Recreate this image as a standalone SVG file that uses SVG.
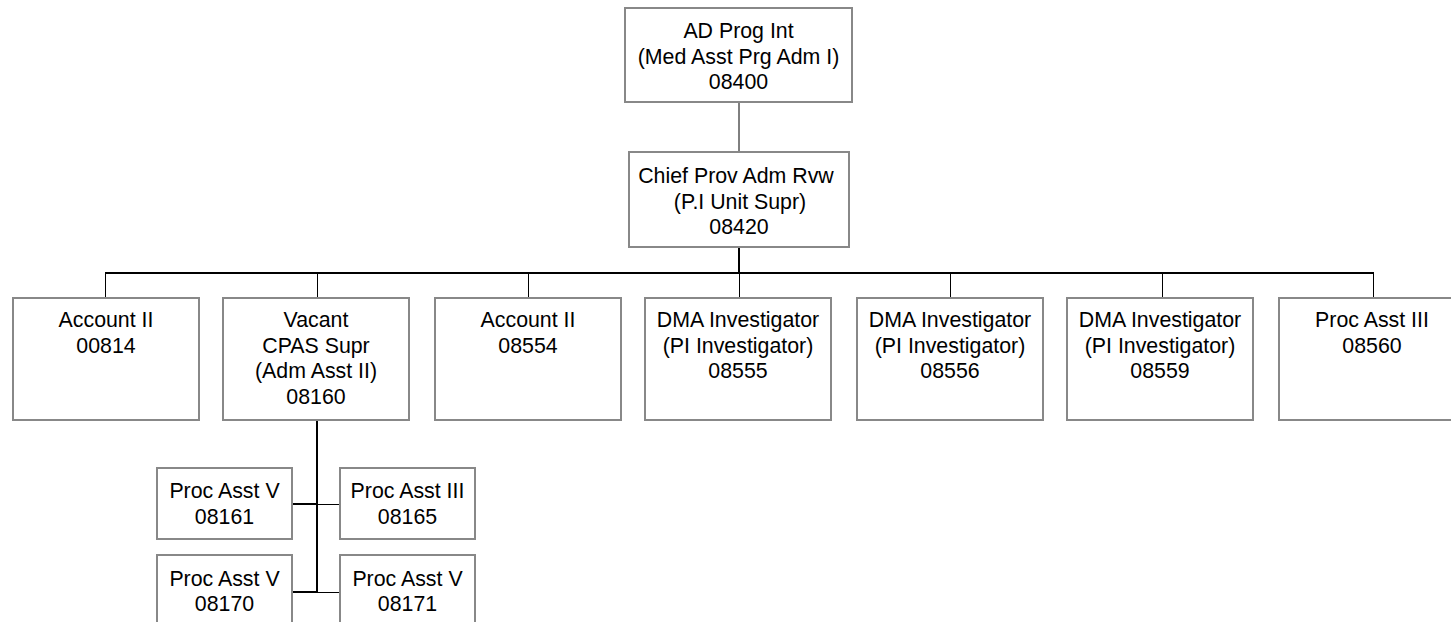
<svg xmlns="http://www.w3.org/2000/svg" width="1451" height="622" viewBox="0 0 1451 622">
<style>
.box{fill:#fff;stroke:#888;stroke-width:2}
.t{font-family:"Liberation Sans",Arial,sans-serif;font-size:21.33px;fill:#000;text-anchor:middle}
.thick{stroke:#000;stroke-width:2;fill:none}
.thin{stroke:#000;stroke-width:1;fill:none}
</style>
<rect width="1451" height="622" fill="#fff"/>
<g id="connectors">
<line class="thin" x1="739" y1="102" x2="739" y2="152"/>
<line class="thick" x1="739" y1="247" x2="739" y2="274"/>
<line class="thick" x1="105" y1="273" x2="1374" y2="273"/>
<line class="thin" x1="105.5" y1="273" x2="105.5" y2="298"/>
<line class="thin" x1="317.5" y1="273" x2="317.5" y2="298"/>
<line class="thin" x1="528.5" y1="273" x2="528.5" y2="298"/>
<line class="thin" x1="739.5" y1="273" x2="739.5" y2="298"/>
<line class="thin" x1="950.5" y1="273" x2="950.5" y2="298"/>
<line class="thin" x1="1162.5" y1="273" x2="1162.5" y2="298"/>
<line class="thin" x1="1373.5" y1="273" x2="1373.5" y2="298"/>
<line class="thick" x1="317" y1="420" x2="317" y2="593"/>
<line class="thick" x1="292" y1="504" x2="317" y2="504"/>
<line class="thin" x1="317" y1="504.5" x2="340" y2="504.5"/>
<line class="thick" x1="292" y1="592" x2="317" y2="592"/>
<line class="thin" x1="317" y1="592.5" x2="340" y2="592.5"/>
</g>
<g id="n08400">
<rect class="box" x="625" y="8" width="227" height="94"/>
<text class="t" x="738.5" y="38">AD Prog Int</text>
<text class="t" x="738.5" y="63.5">(Med Asst Prg Adm I)</text>
<text class="t" x="738.5" y="89">08400</text>
</g>
<g id="n08420">
<rect class="box" x="629" y="152" width="220" height="95"/>
<text class="t" x="736" y="183">Chief Prov Adm Rvw</text>
<text class="t" x="740" y="208.5">(P.I Unit Supr)</text>
<text class="t" x="739" y="234">08420</text>
</g>
<g id="n00814">
<rect class="box" x="13" y="298" width="186" height="122"/>
<text class="t" x="106" y="327">Account II</text>
<text class="t" x="106" y="352.5">00814</text>
</g>
<g id="n08160">
<rect class="box" x="223" y="298" width="186" height="122"/>
<text class="t" x="316" y="327">Vacant</text>
<text class="t" x="316" y="352.5">CPAS Supr</text>
<text class="t" x="316" y="378">(Adm Asst II)</text>
<text class="t" x="316" y="403.5">08160</text>
</g>
<g id="n08554">
<rect class="box" x="435" y="298" width="186" height="122"/>
<text class="t" x="528" y="327">Account II</text>
<text class="t" x="528" y="352.5">08554</text>
</g>
<g id="n08555">
<rect class="box" x="645" y="298" width="186" height="122"/>
<text class="t" x="738" y="327">DMA Investigator</text>
<text class="t" x="738" y="352.5">(PI Investigator)</text>
<text class="t" x="738" y="378">08555</text>
</g>
<g id="n08556">
<rect class="box" x="857" y="298" width="186" height="122"/>
<text class="t" x="950" y="327">DMA Investigator</text>
<text class="t" x="950" y="352.5">(PI Investigator)</text>
<text class="t" x="950" y="378">08556</text>
</g>
<g id="n08559">
<rect class="box" x="1067" y="298" width="186" height="122"/>
<text class="t" x="1160" y="327">DMA Investigator</text>
<text class="t" x="1160" y="352.5">(PI Investigator)</text>
<text class="t" x="1160" y="378">08559</text>
</g>
<g id="n08560">
<rect class="box" x="1279" y="298" width="186" height="122"/>
<text class="t" x="1372" y="327">Proc Asst III</text>
<text class="t" x="1372" y="352.5">08560</text>
</g>
<g id="n08161">
<rect class="box" x="157" y="468" width="135" height="71"/>
<text class="t" x="224.5" y="497.5">Proc Asst V</text>
<text class="t" x="224.5" y="524">08161</text>
</g>
<g id="n08165">
<rect class="box" x="340" y="468" width="135" height="71"/>
<text class="t" x="407.5" y="497.5">Proc Asst III</text>
<text class="t" x="407.5" y="524">08165</text>
</g>
<g id="n08170">
<rect class="box" x="157" y="555" width="135" height="72"/>
<text class="t" x="224.5" y="585.5">Proc Asst V</text>
<text class="t" x="224.5" y="611">08170</text>
</g>
<g id="n08171">
<rect class="box" x="340" y="555" width="135" height="72"/>
<text class="t" x="407.5" y="585.5">Proc Asst V</text>
<text class="t" x="407.5" y="611">08171</text>
</g>
</svg>
